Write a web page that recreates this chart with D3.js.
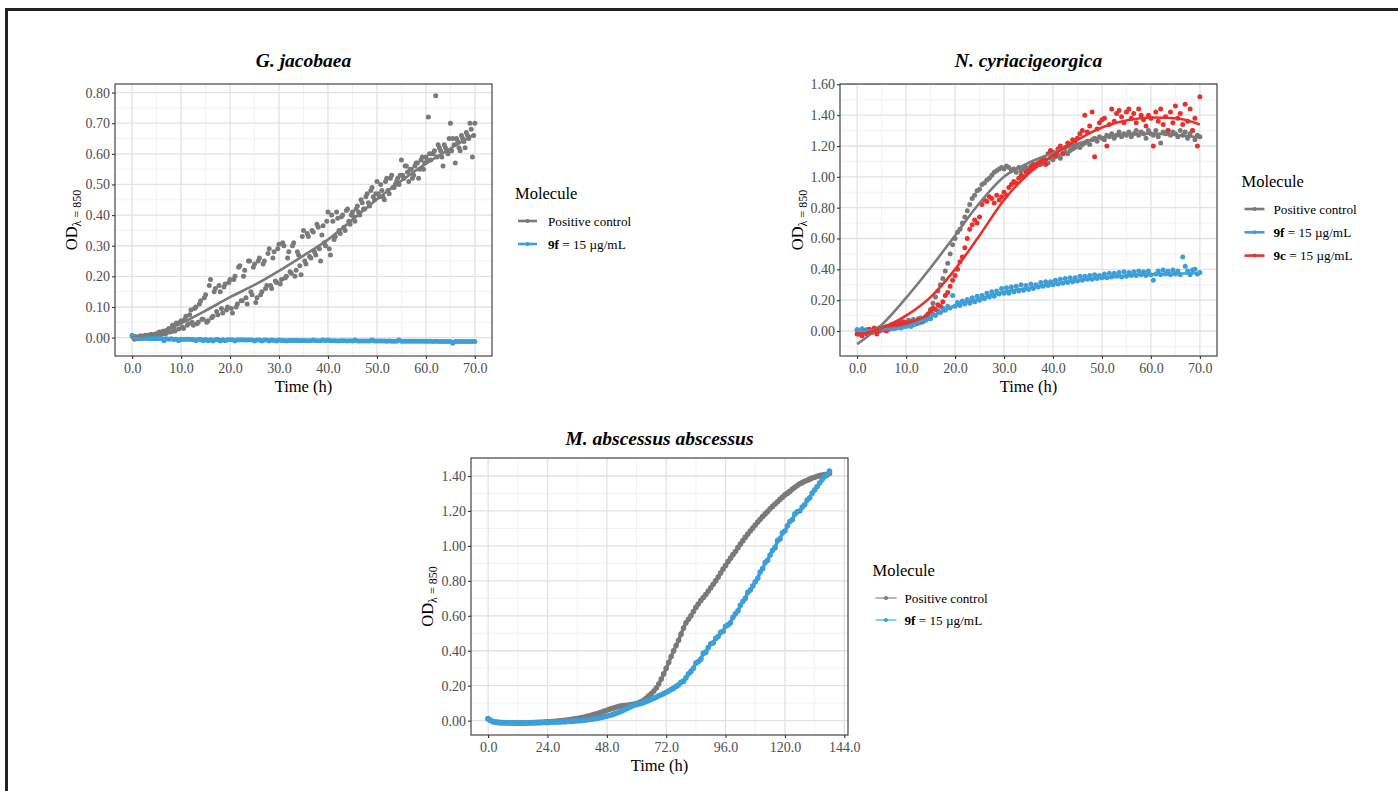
<!DOCTYPE html>
<html>
<head>
<meta charset="utf-8">
<script src="https://cdn.jsdelivr.net/npm/d3@7"></script>
<style>
  body { margin: 0; background: #fff; }
  svg { display: block; font-family: "Liberation Serif", "Times New Roman", serif; }
</style>
</head>
<body>
<svg id="fig" width="1398" height="791"></svg>
<script>
const svg = d3.select("#fig")

const colControl = "#7a7a7a"
const colF = "#3d9fd8"
const colC = "#e8302c"

// sampling times (h)
const halfHours = d3.range(0, 70.001, 0.5)        // 141 reads
const quarterHours = d3.range(0.25, 70, 0.5)      // 140 reads, second well
const hours = d3.range(0, 139)                    // 139 reads, M. abscessus
const fitHours = [0, 5, 10, 15, 20, 25, 30, 35, 40, 45, 50, 55, 60, 65, 70]

// ---- G. jacobaea ----
const jacoControl = [
  0.005, -0.005, 0.002, 0.004, -0.003, 0.006, 0.008, 0.004, 0.010, 0.006,
  0.012, 0.018, 0.010, 0.022, 0.015, 0.030, 0.020, 0.035, 0.048, 0.028,
  0.055, 0.030, 0.070, 0.045, 0.090, 0.040, 0.100, 0.050, 0.120, 0.060,
  0.140, 0.055, 0.190, 0.070, 0.160, 0.075, 0.150, 0.080, 0.175, 0.100,
  0.190, 0.080, 0.200, 0.110, 0.235, 0.120, 0.220, 0.110, 0.250, 0.140,
  0.240, 0.130, 0.260, 0.150, 0.250, 0.170, 0.290, 0.160, 0.280, 0.180,
  0.305, 0.190, 0.300, 0.200, 0.280, 0.210, 0.310, 0.220, 0.270, 0.205,
  0.350, 0.240, 0.330, 0.260, 0.345, 0.270, 0.360, 0.250, 0.365, 0.300,
  0.410, 0.270, 0.380, 0.330, 0.390, 0.340, 0.400, 0.350, 0.420, 0.370,
  0.410, 0.380, 0.430, 0.400, 0.440, 0.420, 0.470, 0.430, 0.490, 0.450,
  0.510, 0.460, 0.480, 0.450, 0.520, 0.470, 0.530, 0.490, 0.510, 0.500,
  0.580, 0.520, 0.560, 0.510, 0.550, 0.530, 0.570, 0.520, 0.580, 0.550,
  0.590, 0.720, 0.580, 0.600, 0.790, 0.630, 0.610, 0.560, 0.620, 0.600,
  0.700, 0.650, 0.570, 0.640, 0.610, 0.650, 0.620, 0.660, 0.700, 0.590,
  0.700
]
const jacoControlB = [
  0.000, 0.003, -0.004, 0.006, 0.002, 0.008, 0.005, 0.010, 0.007, 0.012,
  0.010, 0.015, 0.020, 0.012, 0.025, 0.018, 0.040, 0.022, 0.045, 0.050,
  0.035, 0.060, 0.040, 0.075, 0.050, 0.095, 0.045, 0.110, 0.060, 0.130,
  0.050, 0.170, 0.065, 0.150, 0.085, 0.170, 0.095, 0.165, 0.090, 0.180,
  0.095, 0.190, 0.100, 0.230, 0.120, 0.200, 0.130, 0.250, 0.150, 0.230,
  0.115, 0.250, 0.140, 0.240, 0.160, 0.275, 0.170, 0.260, 0.185, 0.290,
  0.175, 0.310, 0.195, 0.260, 0.215, 0.300, 0.200, 0.280, 0.235, 0.330,
  0.250, 0.340, 0.265, 0.350, 0.280, 0.370, 0.290, 0.335, 0.310, 0.380,
  0.290, 0.400, 0.320, 0.410, 0.350, 0.395, 0.360, 0.415, 0.380, 0.400,
  0.395, 0.420, 0.410, 0.450, 0.420, 0.460, 0.440, 0.480, 0.460, 0.470,
  0.470, 0.500, 0.460, 0.510, 0.480, 0.520, 0.490, 0.500, 0.520, 0.530,
  0.530, 0.560, 0.540, 0.550, 0.520, 0.560, 0.570, 0.550, 0.590, 0.570,
  0.580, 0.600, 0.600, 0.610, 0.590, 0.620, 0.590, 0.630, 0.610, 0.650,
  0.610, 0.630, 0.650, 0.620, 0.660, 0.640, 0.670, 0.650, 0.680, 0.660
]
const jacoF = [
  0.008, 0.004, -0.002, 0.000, -0.003, -0.002, -0.003, -0.003, -0.004, -0.003,
  -0.004, -0.003, -0.004, -0.010, -0.004, -0.005, -0.004, -0.006, -0.005, -0.010,
  -0.005, -0.006, -0.005, -0.005, -0.006, -0.006, -0.010, -0.006, -0.006, -0.010,
  -0.006, -0.010, -0.007, -0.011, -0.007, -0.006, -0.011, -0.007, -0.010, -0.007,
  -0.007, -0.007, -0.011, -0.007, -0.008, -0.007, -0.008, -0.008, -0.007, -0.008,
  -0.011, -0.008, -0.008, -0.011, -0.008, -0.008, -0.011, -0.008, -0.009, -0.011,
  -0.008, -0.009, -0.009, -0.011, -0.009, -0.009, -0.009, -0.009, -0.009, -0.010,
  -0.009, -0.010, -0.010, -0.010, -0.008, -0.010, -0.010, -0.010, -0.008, -0.010,
  -0.008, -0.010, -0.010, -0.010, -0.011, -0.010, -0.010, -0.010, -0.011, -0.010,
  -0.011, -0.008, -0.011, -0.011, -0.011, -0.011, -0.011, -0.011, -0.008, -0.011,
  -0.011, -0.011, -0.011, -0.011, -0.012, -0.011, -0.012, -0.012, -0.012, -0.008,
  -0.012, -0.012, -0.012, -0.012, -0.012, -0.012, -0.012, -0.012, -0.012, -0.012,
  -0.012, -0.012, -0.012, -0.013, -0.012, -0.013, -0.013, -0.013, -0.013, -0.013,
  -0.013, -0.018, -0.013, -0.013, -0.013, -0.013, -0.013, -0.013, -0.013, -0.013,
  -0.013
]
const jacoControlFit = [0.000, 0.015, 0.047, 0.088, 0.132, 0.172, 0.218, 0.268, 0.320, 0.385, 0.452, 0.512, 0.568, 0.617, 0.664]
const jacoFFit = [-0.002, -0.003, -0.004, -0.005, -0.006, -0.007, -0.008, -0.008, -0.009, -0.010, -0.010, -0.011, -0.012, -0.012, -0.013]

// ---- N. cyriacigeorgica ----
const nocaControl = [
  0.005, 0.000, 0.010, -0.005, 0.005, 0.010, 0.000, 0.015, 0.010, 0.020,
  0.015, 0.025, 0.030, 0.020, 0.040, 0.035, 0.050, 0.040, 0.060, 0.045,
  0.055, 0.070, 0.060, 0.075, 0.065, 0.080, 0.085, 0.070, 0.095, 0.110,
  0.140, 0.180, 0.220, 0.260, 0.300, 0.340, 0.390, 0.440, 0.500, 0.560,
  0.600, 0.640, 0.660, 0.700, 0.740, 0.780, 0.820, 0.860, 0.880, 0.910,
  0.920, 0.950, 0.960, 0.980, 0.990, 1.010, 1.030, 1.040, 1.050, 1.060,
  1.050, 1.070, 1.060, 1.040, 1.050, 1.030, 1.060, 1.040, 1.050, 1.060,
  1.040, 1.070, 1.060, 1.080, 1.090, 1.080, 1.100, 1.110, 1.090, 1.120,
  1.110, 1.130, 1.140, 1.120, 1.150, 1.160, 1.150, 1.170, 1.180, 1.190,
  1.200, 1.190, 1.210, 1.220, 1.230, 1.210, 1.240, 1.250, 1.230, 1.260,
  1.250, 1.240, 1.270, 1.260, 1.280, 1.250, 1.270, 1.290, 1.260, 1.280,
  1.270, 1.290, 1.260, 1.280, 1.300, 1.270, 1.290, 1.280, 1.250, 1.300,
  1.280, 1.270, 1.300, 1.260, 1.220, 1.290, 1.280, 1.300, 1.270, 1.290,
  1.280, 1.260, 1.300, 1.270, 1.290, 1.250, 1.280, 1.300, 1.240, 1.270,
  1.260
]
const nocaC = [
  -0.020, -0.010, -0.030, 0.000, -0.020, 0.010, -0.010, 0.020, -0.020, 0.000,
  0.010, 0.020, 0.000, 0.030, 0.020, 0.040, 0.030, 0.050, 0.040, 0.060,
  0.040, 0.055, 0.050, 0.060, 0.055, 0.070, 0.065, 0.080, 0.090, 0.110,
  0.130, 0.150, 0.140, 0.170, 0.160, 0.190, 0.230, 0.250, 0.290, 0.330,
  0.360, 0.400, 0.450, 0.480, 0.540, 0.600, 0.660, 0.690, 0.720, 0.700,
  0.740, 0.820, 0.850, 0.840, 0.870, 0.860, 0.830, 0.880, 0.850, 0.870,
  0.900, 0.880, 0.930, 0.950, 0.970, 0.960, 0.990, 1.010, 1.000, 1.030,
  1.040, 1.060, 1.080, 1.070, 1.090, 1.100, 1.120, 1.080, 1.150, 1.170,
  1.160, 1.140, 1.180, 1.200, 1.150, 1.190, 1.220, 1.210, 1.240, 1.230,
  1.250, 1.280, 1.300, 1.400, 1.290, 1.330, 1.420, 1.130, 1.310, 1.350,
  1.370, 1.380, 1.200, 1.340, 1.440, 1.360, 1.410, 1.430, 1.390, 1.350,
  1.420, 1.440, 1.380, 1.410, 1.350, 1.440, 1.400, 1.370, 1.330, 1.400,
  1.380, 1.200, 1.420, 1.360, 1.440, 1.340, 1.390, 1.300, 1.420, 1.350,
  1.460, 1.380, 1.410, 1.340, 1.470, 1.360, 1.440, 1.300, 1.380, 1.200,
  1.520
]
const nocaF = [
  0.010, -0.005, 0.015, 0.000, 0.010, -0.010, 0.005, 0.010, 0.000, 0.005,
  0.010, 0.005, 0.015, 0.010, 0.020, 0.015, 0.020, 0.025, 0.020, 0.030,
  0.030, 0.035, 0.030, 0.040, 0.045, 0.050, 0.055, 0.060, 0.070, 0.080,
  0.080, 0.110, 0.100, 0.130, 0.120, 0.150, 0.135, 0.160, 0.150, 0.230,
  0.160, 0.185, 0.165, 0.195, 0.175, 0.205, 0.180, 0.215, 0.190, 0.225,
  0.200, 0.230, 0.210, 0.245, 0.220, 0.255, 0.225, 0.260, 0.240, 0.275,
  0.245, 0.280, 0.245, 0.285, 0.255, 0.290, 0.260, 0.300, 0.265, 0.295,
  0.270, 0.305, 0.275, 0.300, 0.285, 0.315, 0.290, 0.320, 0.295, 0.320,
  0.300, 0.330, 0.305, 0.335, 0.310, 0.340, 0.315, 0.345, 0.320, 0.345,
  0.325, 0.355, 0.330, 0.355, 0.335, 0.360, 0.335, 0.365, 0.340, 0.360,
  0.345, 0.370, 0.345, 0.375, 0.350, 0.375, 0.355, 0.380, 0.350, 0.385,
  0.355, 0.380, 0.360, 0.385, 0.360, 0.390, 0.365, 0.385, 0.360, 0.390,
  0.365, 0.330, 0.370, 0.390, 0.365, 0.395, 0.370, 0.390, 0.365, 0.395,
  0.370, 0.390, 0.365, 0.480, 0.420, 0.390, 0.365, 0.395, 0.400, 0.370,
  0.380
]
const nocaControlFit = [-0.085, 0.040, 0.215, 0.410, 0.620, 0.830, 1.000, 1.090, 1.155, 1.215, 1.255, 1.275, 1.280, 1.272, 1.255]
const nocaCFit = [-0.030, 0.020, 0.100, 0.220, 0.400, 0.620, 0.850, 1.020, 1.140, 1.240, 1.320, 1.365, 1.385, 1.380, 1.340]
const nocaFFit = [0.000, 0.010, 0.030, 0.090, 0.165, 0.210, 0.255, 0.280, 0.305, 0.330, 0.345, 0.360, 0.368, 0.372, 0.375]

// ---- M. abscessus abscessus ----
const mabsControl = [
  0.010, 0.001, -0.005, -0.008, -0.010, -0.011, -0.012, -0.012, -0.012, -0.013,
  -0.013, -0.013, -0.014, -0.014, -0.014, -0.013, -0.013, -0.012, -0.012, -0.011,
  -0.010, -0.010, -0.009, -0.008, -0.007, -0.006, -0.005, -0.004, -0.002, -0.001,
  0.001, 0.002, 0.004, 0.006, 0.008, 0.010, 0.012, 0.015, 0.018, 0.021,
  0.025, 0.028, 0.032, 0.036, 0.040, 0.045, 0.050, 0.055, 0.060, 0.065,
  0.070, 0.074, 0.078, 0.082, 0.085, 0.087, 0.088, 0.090, 0.092, 0.095,
  0.098, 0.103, 0.110, 0.118, 0.130, 0.142, 0.155, 0.170, 0.187, 0.210,
  0.238, 0.268, 0.300, 0.333, 0.367, 0.400, 0.430, 0.460, 0.495, 0.530,
  0.560, 0.580, 0.600, 0.625, 0.648, 0.668, 0.688, 0.705, 0.722, 0.742,
  0.760, 0.780, 0.800, 0.822, 0.845, 0.868, 0.888, 0.910, 0.930, 0.950,
  0.968, 0.990, 1.010, 1.030, 1.050, 1.068, 1.085, 1.102, 1.120, 1.137,
  1.152, 1.168, 1.183, 1.197, 1.212, 1.226, 1.240, 1.253, 1.266, 1.279,
  1.292, 1.302, 1.312, 1.325, 1.335, 1.345, 1.355, 1.362, 1.370, 1.376,
  1.382, 1.388, 1.393, 1.398, 1.402, 1.405, 1.408, 1.410, 1.415
]
const mabsF = [
  0.012, 0.002, -0.006, -0.009, -0.010, -0.011, -0.011, -0.011, -0.012, -0.012,
  -0.012, -0.012, -0.012, -0.012, -0.012, -0.012, -0.012, -0.012, -0.011, -0.011,
  -0.011, -0.011, -0.010, -0.010, -0.010, -0.009, -0.009, -0.008, -0.008, -0.007,
  -0.006, -0.006, -0.005, -0.004, -0.003, -0.002, -0.001, 0.000, 0.001, 0.003,
  0.005, 0.007, 0.009, 0.011, 0.013, 0.016, 0.019, 0.022, 0.026, 0.030,
  0.034, 0.039, 0.044, 0.050, 0.056, 0.062, 0.068, 0.075, 0.082, 0.089,
  0.092, 0.096, 0.100, 0.104, 0.110, 0.116, 0.122, 0.128, 0.135, 0.142,
  0.148, 0.155, 0.162, 0.170, 0.178, 0.186, 0.196, 0.205, 0.220, 0.226,
  0.245, 0.268, 0.282, 0.300, 0.330, 0.338, 0.352, 0.385, 0.392, 0.418,
  0.440, 0.445, 0.470, 0.482, 0.505, 0.512, 0.540, 0.548, 0.560, 0.592,
  0.612, 0.628, 0.660, 0.682, 0.700, 0.735, 0.748, 0.770, 0.795, 0.815,
  0.850, 0.870, 0.905, 0.918, 0.948, 0.975, 0.990, 1.030, 1.040, 1.075,
  1.085, 1.115, 1.140, 1.150, 1.182, 1.195, 1.200, 1.222, 1.235, 1.262,
  1.275, 1.302, 1.320, 1.338, 1.360, 1.378, 1.395, 1.405, 1.428
]

const legendLabels = [
  { bold: "", rest: "Positive control" },
  { bold: "9f", rest: " = 15 \u00b5g/mL" },
  { bold: "9c", rest: " = 15 \u00b5g/mL" }
]

// outer frame of the figure
svg.append("path")
  .attr("d", "M6.5,791V9.5H1398")
  .attr("fill", "none")
  .attr("stroke", "#222")
  .attr("stroke-width", 3)

let clipId = 0

function drawPanel(cfg) {
  const g = svg.append("g")
  const x = d3.scaleLinear().domain(cfg.xDomain).range([cfg.left, cfg.right])
  const y = d3.scaleLinear().domain(cfg.yDomain).range([cfg.bottom, cfg.top])

  // grid
  g.selectAll(null).data(cfg.xMinor).join("line")
    .attr("x1", d => x(d)).attr("x2", d => x(d))
    .attr("y1", cfg.top).attr("y2", cfg.bottom)
    .attr("stroke", "#efefef").attr("stroke-width", 0.8)
  g.selectAll(null).data(cfg.yMinor).join("line")
    .attr("y1", d => y(d)).attr("y2", d => y(d))
    .attr("x1", cfg.left).attr("x2", cfg.right)
    .attr("stroke", "#efefef").attr("stroke-width", 0.8)
  g.selectAll(null).data(cfg.xTicks).join("line")
    .attr("x1", d => x(d)).attr("x2", d => x(d))
    .attr("y1", cfg.top).attr("y2", cfg.bottom)
    .attr("stroke", "#e2e2e2").attr("stroke-width", 1.3)
  g.selectAll(null).data(cfg.yTicks).join("line")
    .attr("y1", d => y(d)).attr("y2", d => y(d))
    .attr("x1", cfg.left).attr("x2", cfg.right)
    .attr("stroke", "#e2e2e2").attr("stroke-width", 1.3)

  const id = "clip" + (clipId++)
  g.append("clipPath").attr("id", id)
    .append("rect")
    .attr("x", cfg.left).attr("y", cfg.top)
    .attr("width", cfg.right - cfg.left).attr("height", cfg.bottom - cfg.top)
  const plot = g.append("g").attr("clip-path", `url(#${id})`)

  // points, one set per well
  cfg.series.forEach(s => {
    s.wells.forEach(([times, values]) => {
      if (s.joinLine) {
        plot.append("path")
          .datum(values)
          .attr("fill", "none")
          .attr("stroke", s.color)
          .attr("stroke-width", 3.5)
          .attr("d", d3.line().x((d, i) => x(times[i])).y(d => y(d)))
      }
      plot.append("g").selectAll("circle").data(values).join("circle")
        .attr("cx", (d, i) => x(times[i]))
        .attr("cy", d => y(d))
        .attr("r", cfg.pointR)
        .attr("fill", s.color)
    })
  })
  // fitted curves
  cfg.series.forEach(s => {
    if (!s.fit) return
    plot.append("path")
      .datum(s.fit)
      .attr("fill", "none")
      .attr("stroke", s.color)
      .attr("stroke-width", 2.6)
      .attr("d", d3.line().curve(d3.curveMonotoneX).x((d, i) => x(fitHours[i])).y(d => y(d)))
  })

  // border
  g.append("rect")
    .attr("x", cfg.left).attr("y", cfg.top)
    .attr("width", cfg.right - cfg.left).attr("height", cfg.bottom - cfg.top)
    .attr("fill", "none").attr("stroke", "#333").attr("stroke-width", 1.1)

  // axes
  const xAxis = g.append("g")
    .attr("transform", `translate(0,${cfg.bottom})`)
    .call(d3.axisBottom(x).tickValues(cfg.xTicks).tickFormat(d3.format(".1f")).tickSize(3).tickPadding(4))
  const yAxis = g.append("g")
    .attr("transform", `translate(${cfg.left},0)`)
    .call(d3.axisLeft(y).tickValues(cfg.yTicks).tickFormat(d3.format(".2f")).tickSize(3).tickPadding(2))
  ;[xAxis, yAxis].forEach(a => {
    a.select(".domain").remove()
    a.selectAll(".tick line").attr("stroke", "#333").attr("stroke-width", 1.1)
    a.selectAll(".tick text")
      .attr("fill", "#4d4d4d")
      .style("font-family", '"Liberation Serif", serif')
      .style("font-size", "14px")
  })

  const cx = (cfg.left + cfg.right) / 2
  const cy = (cfg.top + cfg.bottom) / 2

  // title
  g.append("text")
    .attr("x", cx).attr("y", cfg.titleY)
    .attr("text-anchor", "middle")
    .style("font-size", "19.5px")
    .style("font-weight", "bold")
    .style("font-style", "italic")
    .text(cfg.title)

  // axis titles
  g.append("text")
    .attr("x", cx).attr("y", cfg.bottom + 35.5)
    .attr("text-anchor", "middle")
    .style("font-size", "16.5px")
    .text("Time (h)")

  const yl = g.append("text")
    .attr("transform", `translate(${cfg.yLabelX},${cy}) rotate(-90)`)
    .attr("text-anchor", "middle")
    .style("font-size", "16.5px")
  yl.append("tspan").text("OD")
  yl.append("tspan").attr("dy", 4).style("font-size", "12px").text("\u03bb = 850")

  // legend
  const lg = svg.append("g").attr("transform", `translate(${cfg.legend.x},${cfg.legend.y})`)
  lg.append("text").attr("x", 0).attr("y", 0)
    .style("font-size", "16.5px").text("Molecule")
  cfg.series.forEach((s, i) => {
    const ly = 22 + i * cfg.legend.step
    lg.append("line")
      .attr("x1", 3).attr("x2", 3 + cfg.legend.keyW)
      .attr("y1", ly).attr("y2", ly)
      .attr("stroke", s.color).attr("stroke-width", cfg.legend.keyStroke)
    lg.append("circle")
      .attr("cx", 3 + cfg.legend.keyW / 2).attr("cy", ly).attr("r", 2)
      .attr("fill", s.color)
    const t = lg.append("text")
      .attr("x", cfg.legend.textX).attr("y", ly + 4.5)
      .style("font-size", "13.2px")
    const lab = legendLabels[s.label]
    if (lab.bold) t.append("tspan").style("font-weight", "bold").text(lab.bold)
    t.append("tspan").text(lab.rest)
  })
}

drawPanel({
  title: "G. jacobaea",
  left: 115, right: 492, top: 84, bottom: 356,
  xDomain: [-3.5, 73.5], yDomain: [-0.060, 0.828],
  xTicks: d3.range(0, 71, 10), xMinor: d3.range(5, 70, 10),
  yTicks: d3.range(0, 9).map(d => d / 10), yMinor: d3.range(-1, 16, 2).map(d => d / 20),
  titleY: 67, yLabelX: 77, pointR: 2.5,
  series: [
    { wells: [[halfHours, jacoControl], [quarterHours, jacoControlB]], fit: jacoControlFit, color: colControl, label: 0 },
    { wells: [[halfHours, jacoF]], fit: jacoFFit, color: colF, label: 1 }
  ],
  legend: { x: 515, y: 199, step: 23, keyW: 19, keyStroke: 2.6, textX: 33 }
})

drawPanel({
  title: "N. cyriacigeorgica",
  left: 840, right: 1217, top: 84, bottom: 356,
  xDomain: [-3.5, 73.5], yDomain: [-0.162, 1.602],
  xTicks: d3.range(0, 71, 10), xMinor: d3.range(5, 70, 10),
  yTicks: d3.range(0, 9).map(d => d / 5), yMinor: d3.range(-1, 16, 2).map(d => d / 10),
  titleY: 67, yLabelX: 803, pointR: 2.5,
  series: [
    { wells: [[halfHours, nocaControl]], fit: nocaControlFit, color: colControl, label: 0 },
    { wells: [[halfHours, nocaF]], fit: nocaFFit, color: colF, label: 1 },
    { wells: [[halfHours, nocaC]], fit: nocaCFit, color: colC, label: 2 }
  ],
  legend: { x: 1241.5, y: 187, step: 23.3, keyW: 20, keyStroke: 2.6, textX: 32 }
})

drawPanel({
  title: "M. abscessus abscessus",
  left: 471, right: 848, top: 458, bottom: 735,
  xDomain: [-6.93, 145.5], yDomain: [-0.082, 1.503],
  xTicks: d3.range(0, 145, 24), xMinor: d3.range(12, 140, 24),
  yTicks: d3.range(0, 8).map(d => d / 5), yMinor: d3.range(1, 16, 2).map(d => d / 10),
  titleY: 445, yLabelX: 433, pointR: 2.8,
  series: [
    { wells: [[hours, mabsControl]], color: colControl, label: 0, joinLine: true },
    { wells: [[hours, mabsF]], color: colF, label: 1, joinLine: true }
  ],
  legend: { x: 872.5, y: 576, step: 22, keyW: 21, keyStroke: 1.1, textX: 32 }
})
</script>
</body>
</html>
